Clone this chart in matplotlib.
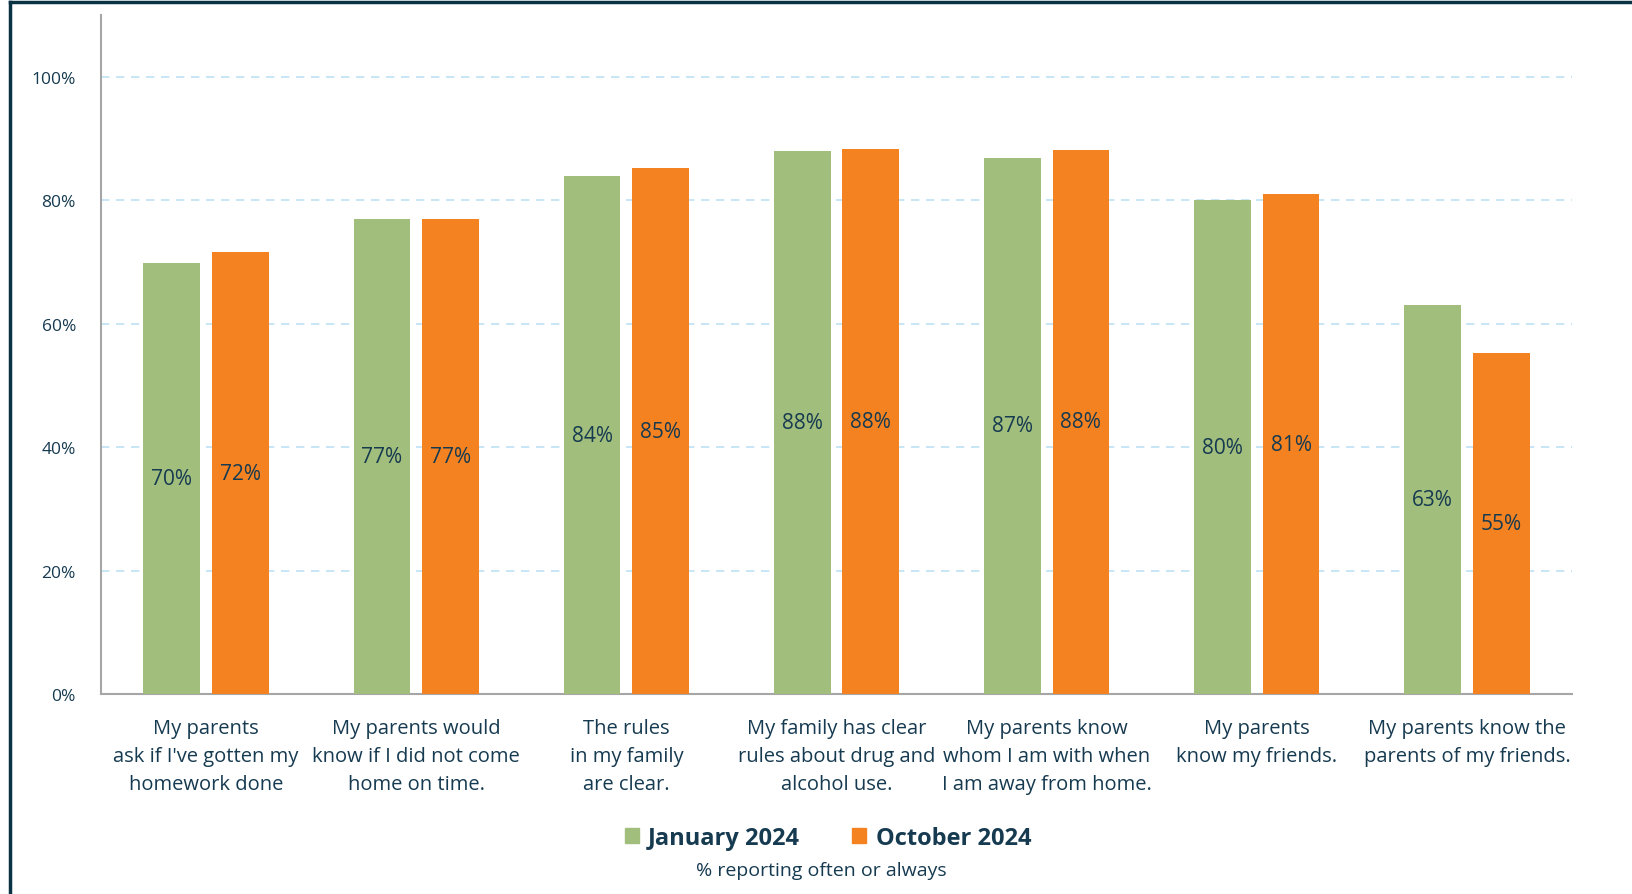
import numpy as np
import matplotlib.pyplot as plt
from matplotlib.lines import Line2D
from matplotlib.patches import Patch

categories = [
    "My parents\nask if I've gotten my\nhomework done",
    "My parents would\nknow if I did not come\nhome on time.",
    "The rules\nin my family\nare clear.",
    "My family has clear\nrules about drug and\nalcohol use.",
    "My parents know\nwhom I am with when\nI am away from home.",
    "My parents\nknow my friends.",
    "My parents know the\nparents of my friends.",
]
jan_2024 = [69.8, 77.0, 83.9, 88.0, 86.9, 80.0, 63.0]
oct_2024 = [71.6, 77.0, 85.2, 88.3, 88.2, 81.0, 55.3]
series_names = ["January 2024", "October 2024"]

GREEN = "#A1BE7D"
ORANGE = "#F58220"
NAVY = "#163A50"
FRAME = "#0B3145"

plt.rcParams["font.family"] = ["Open Sans", "DejaVu Sans"]

fig = plt.figure(figsize=(16.33, 8.95), dpi=100)
ax = fig.add_axes([0.0618, 0.2235, 0.9009, 0.7585])

x = np.arange(len(categories))
w = 0.27
off = 0.163
b1 = ax.bar(x - off, jan_2024, w, color=GREEN, zorder=3)
b2 = ax.bar(x + off, oct_2024, w, color=ORANGE, zorder=3)

for bars, vals in ((b1, jan_2024), (b2, oct_2024)):
    for rect, v in zip(bars, vals):
        ax.text(rect.get_x() + rect.get_width() / 2, v / 2, f"{v:.0f}%",
                ha="center", va="center", fontsize=15, color=NAVY, zorder=4)

ax.set_xlim(-0.5, len(categories) - 0.5)
ax.set_ylim(0, 110)
ax.set_yticks(np.arange(0, 101, 20))
ax.set_yticklabels([f"{t}%" for t in range(0, 101, 20)], color=NAVY, fontsize=12.5)
ax.yaxis.grid(True, color="#BDE2F4", linestyle=(0, (5, 4)), linewidth=1.2, zorder=0)
ax.tick_params(axis="y", length=0, pad=18)
ax.set_xticks(x)
ax.set_xticklabels(categories, fontsize=14.5, color=NAVY, linespacing=1.55)
ax.tick_params(axis="x", length=0, pad=17)

for side in ("top", "right"):
    ax.spines[side].set_visible(False)
for side in ("left", "bottom"):
    ax.spines[side].set_color("#A6A6A6")
    ax.spines[side].set_linewidth(1.5)

handles = [Patch(color=GREEN), Patch(color=ORANGE)]
leg = fig.legend(handles, series_names, loc="center", bbox_to_anchor=(0.507, 0.063),
                 ncol=2, frameon=False, handlelength=0.6, handleheight=0.6,
                 handletextpad=0.4, columnspacing=2.2,
                 prop={"size": 17, "weight": "bold"})
for t in leg.get_texts():
    t.set_color(NAVY)

fig.text(0.503, 0.027, "% reporting often or always", ha="center", va="center",
         fontsize=14, color=NAVY)

# outer frame: left and top rules
fig.add_artist(Line2D([0.0062, 0.0062], [0, 0.997], color=FRAME, linewidth=2.5))
fig.add_artist(Line2D([0.0062, 1.0], [0.997, 0.997], color=FRAME, linewidth=2.5))

fig.savefig("out.png", dpi=100)
